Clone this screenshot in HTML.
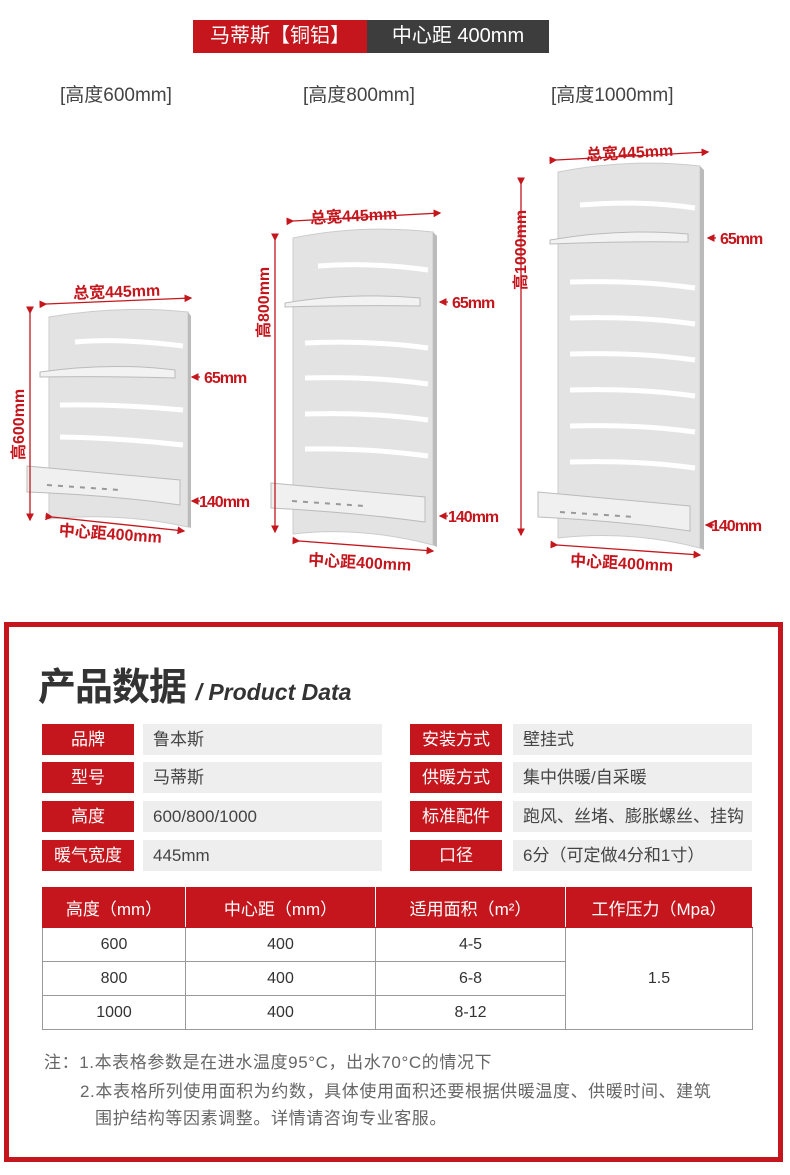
<!DOCTYPE html>
<html><head><meta charset="utf-8"><style>
body{margin:0;width:790px;height:1175px;background:#fff;position:relative;font-family:"Liberation Sans","Noto Sans CJK SC",sans-serif;overflow:hidden}
.a{position:absolute}
.hdr{top:20px;height:33px;line-height:33px;color:#fff;font-size:20px;text-align:center}
.lbl{font-size:19px;color:#444}
.k{position:absolute;width:92px;height:31px;background:#c4161c;color:#fff;font-size:17px;line-height:31px;text-align:center}
.v{position:absolute;width:239px;height:31px;background:#eeeeee;color:#444;font-size:17px;line-height:31px;padding-left:10px;box-sizing:border-box}
table{position:absolute;left:42px;top:887px;width:711px;border-collapse:collapse;font-size:16px;color:#333}
td,th{border:1px solid #999;text-align:center;padding:0}
th{background:#c4161c;color:#fff;font-weight:normal;height:39px;border-color:#c4161c;border-right:1px solid #fff;font-size:17px}
td{height:33px}
.note{font-size:17px;color:#666;letter-spacing:0.6px}
</style></head><body>
<div class="a hdr" style="left:193px;width:174px;background:#c4161c">马蒂斯【铜铝】</div>
<div class="a hdr" style="left:367px;width:182px;background:#3d3d3d">中心距 400mm</div>
<div class="a lbl" style="left:60px;top:80px">[高度600mm]</div>
<div class="a lbl" style="left:303px;top:80px">[高度800mm]</div>
<div class="a lbl" style="left:551px;top:80px">[高度1000mm]</div>

<svg class="a" style="left:0;top:0" width="790" height="600" font-family="Liberation Sans,Noto Sans CJK SC,sans-serif" font-size="16" font-weight="bold" fill="#c4161c">
<defs><marker id="m" markerWidth="6" markerHeight="6" refX="5" refY="3" orient="auto"><path d="M0,0L6,3L0,6z" fill="#c4161c"/></marker></defs>
<g>
<path d="M49,317 Q120,305 188,312 L188,527 Q120,512 49,519Z" fill="#e3e3e3" stroke="#ccc"/>
<path d="M188,312 L191,316 L191,528 L188,527Z" fill="#bbb"/>
<g stroke="#fff" stroke-width="5" fill="none">
<path d="M75,342 Q120,338 183,346"/><path d="M60,405 Q120,404 183,410"/><path d="M60,437 Q120,438 183,445"/>
</g>
<path d="M40,372 Q110,362 175,370 L175,378 Q110,376 40,377Z" fill="#f2f2f2" stroke="#bbb"/>
<path d="M27,466 L180,480 L180,505 Q110,495 27,492Z" fill="#f0f0f0" stroke="#bbb"/>
<path d="M47,485 L120,490" stroke="#999" stroke-dasharray="5 6" stroke-width="2"/>
</g>
<g>
<path d="M293,238 Q360,224 433,232 L433,545 Q360,526 293,534Z" fill="#e3e3e3" stroke="#ccc"/>
<path d="M433,232 L437,236 L437,547 L433,545Z" fill="#bbb"/>
<g stroke="#fff" stroke-width="5" fill="none">
<path d="M318,266 Q370,262 428,270"/><path d="M305,343 Q370,340 428,348"/><path d="M305,378 Q370,376 428,384"/><path d="M305,414 Q370,412 428,420"/><path d="M305,449 Q370,448 428,456"/>
</g>
<path d="M285,303 Q350,292 420,298 L420,306 Q350,305 285,307Z" fill="#f2f2f2" stroke="#bbb"/>
<path d="M271,483 L425,497 L425,522 Q350,512 271,508Z" fill="#f0f0f0" stroke="#bbb"/>
<path d="M292,501 L365,506" stroke="#999" stroke-dasharray="5 6" stroke-width="2"/>
</g>
<g>
<path d="M558,172 Q630,158 700,166 L700,548 Q630,530 558,538Z" fill="#e3e3e3" stroke="#ccc"/>
<path d="M700,166 L704,170 L704,550 L700,548Z" fill="#bbb"/>
<g stroke="#fff" stroke-width="5" fill="none">
<path d="M580,205 Q640,200 695,208"/><path d="M570,282 Q640,280 695,288"/><path d="M570,318 Q640,316 695,324"/><path d="M570,354 Q640,352 695,360"/><path d="M570,390 Q640,388 695,396"/><path d="M570,426 Q640,424 695,432"/><path d="M570,462 Q640,460 695,468"/>
</g>
<path d="M550,240 Q620,228 688,234 L688,242 Q620,241 550,244Z" fill="#f2f2f2" stroke="#bbb"/>
<path d="M538,492 L690,506 L690,531 Q620,521 538,517Z" fill="#f0f0f0" stroke="#bbb"/>
<path d="M560,512 L635,517" stroke="#999" stroke-dasharray="5 6" stroke-width="2"/>
</g>
<g stroke="#c4161c" stroke-width="1.3" marker-end="url(#m)" marker-start="url(#m)" fill="none">
<line x1="46" y1="304" x2="191" y2="298"/><line x1="30" y1="313" x2="30" y2="520"/><line x1="52" y1="517" x2="184" y2="531"/>
<line x1="293" y1="221" x2="440" y2="213"/><line x1="275" y1="240" x2="275" y2="532"/><line x1="299" y1="541" x2="433" y2="551"/>
<line x1="556" y1="160" x2="708" y2="152"/><line x1="521" y1="184" x2="521" y2="535"/><line x1="557" y1="545" x2="700" y2="555"/>
</g>
<g stroke="#c4161c" stroke-width="1.3" fill="none">
<line x1="200" y1="377" x2="192" y2="377" marker-end="url(#m)"/><line x1="448" y1="302" x2="440" y2="302" marker-end="url(#m)"/><line x1="716" y1="238" x2="708" y2="238" marker-end="url(#m)"/>
<line x1="200" y1="501" x2="192" y2="501" marker-end="url(#m)"/><line x1="448" y1="516" x2="440" y2="516" marker-end="url(#m)"/><line x1="714" y1="525" x2="706" y2="525" marker-end="url(#m)"/>
</g>
<text x="73" y="297" transform="rotate(-2 120 290)">总宽445mm</text>
<text x="310" y="221" transform="rotate(-3 360 215)">总宽445mm</text>
<text x="586" y="158" transform="rotate(-3 630 152)">总宽445mm</text>
<text transform="translate(24,460) rotate(-90)">高600mm</text>
<text transform="translate(269,338) rotate(-90)">高800mm</text>
<text transform="translate(526,290) rotate(-90)">高1000mm</text>
<text x="204" y="383" letter-spacing="-1">65mm</text><text x="452" y="308" letter-spacing="-1">65mm</text><text x="720" y="244" letter-spacing="-1">65mm</text>
<text x="199" y="507" letter-spacing="-1">140mm</text><text x="448" y="522" letter-spacing="-1">140mm</text><text x="711" y="531" letter-spacing="-1">140mm</text>
<text x="58" y="540" transform="rotate(4 120 545)">中心距400mm</text>
<text x="308" y="568" transform="rotate(3 360 565)">中心距400mm</text>
<text x="570" y="569" transform="rotate(3 630 565)">中心距400mm</text>
</svg>

<div class="a" style="left:4px;top:622px;width:769px;height:530px;border:5px solid #c4161c"></div>
<div class="a" style="left:38px;top:656px;font-size:38px;font-weight:bold;color:#333;letter-spacing:-1px">产品数据 <span style="font-size:23px;font-style:italic;letter-spacing:0">/ Product Data</span></div>

<div class="k" style="left:42px;top:724px">品牌</div><div class="v" style="left:143px;top:724px">鲁本斯</div>
<div class="k" style="left:42px;top:762px">型号</div><div class="v" style="left:143px;top:762px">马蒂斯</div>
<div class="k" style="left:42px;top:801px">高度</div><div class="v" style="left:143px;top:801px">600/800/1000</div>
<div class="k" style="left:42px;top:840px">暖气宽度</div><div class="v" style="left:143px;top:840px">445mm</div>
<div class="k" style="left:410px;top:724px">安装方式</div><div class="v" style="left:513px;top:724px">壁挂式</div>
<div class="k" style="left:410px;top:762px">供暖方式</div><div class="v" style="left:513px;top:762px">集中供暖/自采暖</div>
<div class="k" style="left:410px;top:801px">标准配件</div><div class="v" style="left:513px;top:801px">跑风、丝堵、膨胀螺丝、挂钩</div>
<div class="k" style="left:410px;top:840px">口径</div><div class="v" style="left:513px;top:840px">6分（可定做4分和1寸）</div>

<table>
<tr><th style="width:142px">高度（mm）</th><th style="width:189px">中心距（mm）</th><th style="width:189px">适用面积（m²）</th><th>工作压力（Mpa）</th></tr>
<tr><td>600</td><td>400</td><td>4-5</td><td rowspan="3">1.5</td></tr>
<tr><td>800</td><td>400</td><td>6-8</td></tr>
<tr><td>1000</td><td>400</td><td>8-12</td></tr>
</table>
<div class="a note" style="left:44px;top:1048px">注：1.本表格参数是在进水温度95°C，出水70°C的情况下</div>
<div class="a note" style="left:80px;top:1077px">2.本表格所列使用面积为约数，具体使用面积还要根据供暖温度、供暖时间、建筑</div>
<div class="a note" style="left:95px;top:1104px">围护结构等因素调整。详情请咨询专业客服。</div>
</body></html>
